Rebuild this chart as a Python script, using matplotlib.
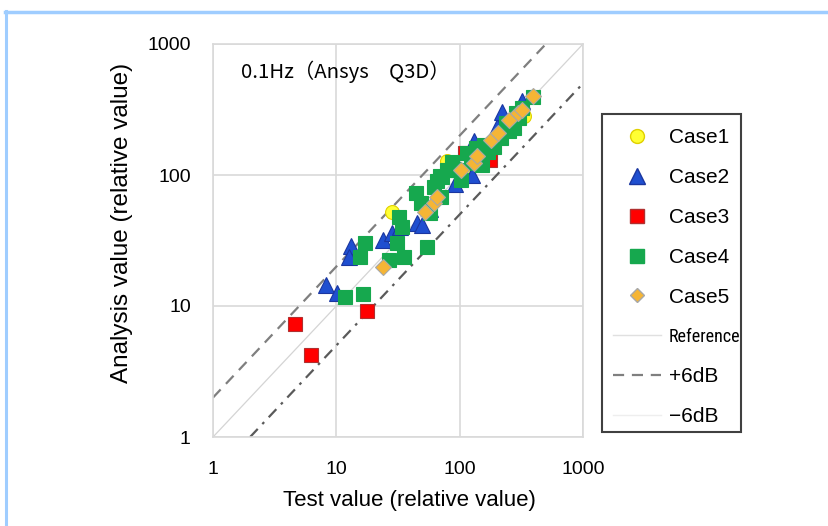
import matplotlib
matplotlib.use("Agg")
import matplotlib.pyplot as plt
from matplotlib.lines import Line2D
from matplotlib.patches import Rectangle

# ---------------------------------------------------------------------------
# data
# ---------------------------------------------------------------------------
case1_x = [28.5, 79, 115, 333]
case1_y = [52, 128, 103, 282]

case2_x = [8.2, 10.1, 13.1, 12.7, 24.1, 28.3, 33.1, 45.3, 49.5, 58, 92, 127, 131, 201, 222, 322]
case2_y = [14.5, 12.6, 28.8, 23.6, 32, 36, 40.3, 42.8, 41.5, 55, 85, 100, 183, 231, 305, 370]

case3_x = [4.6, 6.2, 17.6, 110, 175]
case3_y = [7.3, 4.25, 9.2, 148, 130]

case4_x = [11.8, 16.6, 15.7, 17.2, 26.6, 31.1, 35.3, 32.1, 34.2, 54.6, 43.9, 48.2,
           58, 61.8, 70, 69.6, 72.3, 79.5, 87, 95.7, 102, 115, 123, 153, 153, 158,
           190, 215, 237, 277, 285, 323, 390, 66, 90, 135, 170, 250, 300]
case4_y = [11.8, 12.4, 23.8, 30.4, 22.4, 30.1, 23.8, 48.1, 40.3, 28.4, 72.4, 60.8,
           51, 81.4, 68, 97.7, 97, 109, 126, 109, 91.6, 146, 123, 146, 119, 169,
           164, 190, 248, 227, 296, 323, 396, 90, 112, 160, 150, 215, 270]

case5_x = [24, 52.5, 61.8, 65.9, 102, 131, 139, 179, 203, 252, 295, 321, 390]
case5_y = [20, 52.5, 60.8, 68.3, 109, 123, 140, 185, 208, 263, 296, 315, 400]

ref_x = [1, 1000]
ref_y = [1, 1000]
plus6_x = [1, 500]
plus6_y = [2, 1000]
minus6_x = [2, 1000]
minus6_y = [1, 500]

ticks = [1, 10, 100, 1000]
tick_labels = ["1", "10", "100", "1000"]

# ---------------------------------------------------------------------------
plt.rcParams["font.family"] = ["Liberation Sans", "DejaVu Sans"]

W, H = 829, 526
fig = plt.figure(figsize=(W / 100, H / 100), dpi=100)
ax = fig.add_axes([213 / W, 1 - 437 / H, 370 / W, 393 / H])

ax.set_xscale("log")
ax.set_yscale("log")
ax.set_xlim(1, 1000)
ax.set_ylim(1, 1000)

ax.grid(True, color="#d9d9d9", lw=1.2)
ax.set_axisbelow(True)
for sp in ax.spines.values():
    sp.set_color("#d9d9d9")
    sp.set_linewidth(1.2)

ax.plot(ref_x, ref_y, color="#d4d4d4", lw=0.9, zorder=2)
ax.plot(plus6_x, plus6_y, color="#7f7f7f", lw=1.6, ls=(0, (5, 3.5)), zorder=2)
ax.plot(minus6_x, minus6_y, color="#5a5a5a", lw=1.6,
        ls=(0, (5, 3, 1.2, 3)), zorder=2)

ax.plot(case1_x, case1_y, "o", ms=10, mfc="#ffff33", mec="#e0d000", mew=0.8, zorder=3)
ax.plot(case2_x, case2_y, "^", ms=11.5, mfc="#1f4fd0", mec="#1a36a0", mew=0.8, zorder=3)
ax.plot(case3_x, case3_y, "s", ms=10.5, mfc="#ff0000", mec="#b03030", mew=0.8, zorder=3)
ax.plot(case4_x, case4_y, "s", ms=10.5, mfc="#16a84e", mec="#16a84e", mew=0.8, zorder=3)
ax.plot(case5_x, case5_y, "D", ms=8.5, mfc="#f5b535", mec="#a8a8a8", mew=0.8, zorder=4)

ax.set_xticks(ticks)
ax.set_xticklabels(tick_labels)
ax.set_yticks(ticks)
ax.set_yticklabels(tick_labels)
ax.minorticks_off()
ax.tick_params(length=0, labelsize=14, colors="black")
ax.tick_params(axis="x", pad=17)
ax.tick_params(axis="y", pad=16)

ax.set_xlabel("Test value (relative value)", fontsize=16)
ax.set_ylabel("Analysis value (relative value)", fontsize=17.5)
ax.xaxis.set_label_coords(0.532, -0.135)
ax.yaxis.set_label_coords(-0.216, 0.545)

ax.text(0.075, 0.93, "0.1Hz（Ansys　Q3D）", transform=ax.transAxes,
        fontsize=14.7, va="center", ha="left",
        family=["Noto Sans CJK JP", "DejaVu Sans"])

handles = [
    Line2D([0], [0], ls="none", marker="o", ms=10, mfc="#ffff33", mec="#e0d000"),
    Line2D([0], [0], ls="none", marker="^", ms=11, mfc="#1f4fd0", mec="#1a36a0"),
    Line2D([0], [0], ls="none", marker="s", ms=10, mfc="#ff0000", mec="#b03030"),
    Line2D([0], [0], ls="none", marker="s", ms=10, mfc="#16a84e", mec="#16a84e"),
    Line2D([0], [0], ls="none", marker="D", ms=7.5, mfc="#f5b535", mec="#a8a8a8"),
    Line2D([0], [0], color="#e0e0e0", lw=1.0),
    Line2D([0], [0], color="#7f7f7f", lw=1.6, ls=(0, (5, 3.5))),
    Line2D([0], [0], color="#eeeeee", lw=1.0),
]
labels = ["Case1", "Case2", "Case3", "Case4", "Case5", "Reference", "+6dB", "\u22126dB"]
leg = fig.legend(handles, labels, loc="upper left",
                 bbox_to_anchor=(602 / W, 1 - 117 / H),
                 fontsize=15, frameon=False, labelspacing=1.0, handlelength=2.3,
                 handletextpad=0.35, borderpad=0.55, borderaxespad=0)
ref_txt = leg.get_texts()[5]
ref_txt.set_fontsize(13)
ref_txt.set_family(["Roboto Condensed", "Liberation Sans Narrow", "Liberation Sans"])

# legend box drawn at the original spot
fig.add_artist(Rectangle((602 / W, 1 - 432 / H), 139 / W, 318 / H,
                         transform=fig.transFigure, fill=False,
                         edgecolor="#404040", lw=1.5))

# light blue frame of the original slide
fig.add_artist(Line2D([5 / W, 1], [1 - 11.5 / H, 1 - 11.5 / H], transform=fig.transFigure,
                      color="#9fcdff", lw=2.5))
fig.add_artist(Line2D([6 / W, 6 / W], [0, 1 - 11 / H], transform=fig.transFigure,
                      color="#9fcdff", lw=2.2))

fig.savefig("out.png", dpi=100)
